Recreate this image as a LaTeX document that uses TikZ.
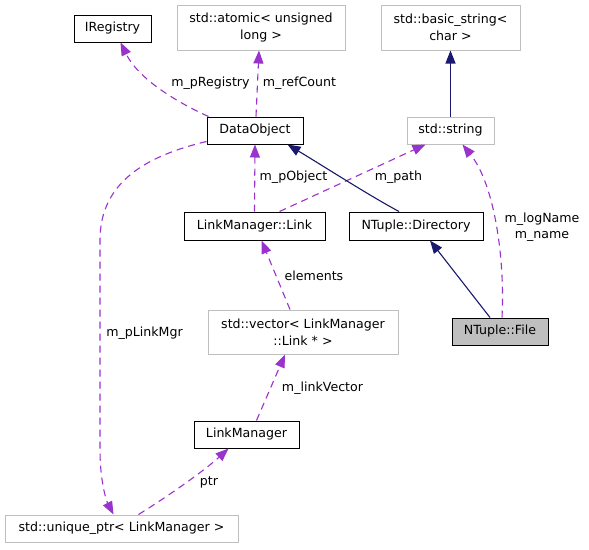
\documentclass[tikz,border=0pt]{standalone}
\usepackage{fontspec}
\setmainfont{DejaVu Sans}
\usetikzlibrary{arrows.meta,calc}
\definecolor{edgep}{HTML}{9A32CD}
\definecolor{edgen}{HTML}{191970}
\definecolor{boxg}{HTML}{BFBFBF}
\begin{document}
\begin{tikzpicture}[x=1pt,y=-1pt,
  font=\fontsize{12.6}{16.5}\selectfont,
  cls/.style={draw=black, line width=1pt, fill=white, inner sep=0pt, align=center},
  ext/.style={draw=boxg, line width=1pt, fill=white, inner sep=0pt, align=center},
  usage/.style={draw=edgep, dash pattern=on 7pt off 5pt, line width=1.1pt, -{Triangle[length=13pt,width=10pt]}},
  inherit/.style={draw=edgen, line width=1.1pt, -{Triangle[length=13pt,width=10pt]}},
  lbl/.style={inner sep=0pt, align=center}]
\fill[white] (0,0) rectangle (589,549);
\useasboundingbox (0,0) rectangle (589,549);

% nodes
\node[cls, minimum width=77pt, minimum height=27pt] (ireg) at (112.5,28.5) {IRegistry};
\node[ext, minimum width=168pt, minimum height=45pt] (atomic) at (261,27.5) {std::atomic< unsigned\\long >};
\node[ext, minimum width=139pt, minimum height=45pt] (bstr) at (450.5,27.5) {std::basic\_string<\\char >};
\node[cls, minimum width=96pt, minimum height=27pt] (dobj) at (255,130.5) {DataObject};
\node[ext, minimum width=87pt, minimum height=27pt] (str) at (450.5,130.5) {std::string};
\node[cls, minimum width=141pt, minimum height=28pt] (link) at (254.5,226) {LinkManager::Link};
\node[cls, minimum width=134pt, minimum height=28pt] (dir) at (416,226) {NTuple::Directory};
\node[cls, fill=boxg, minimum width=96pt, minimum height=27pt] (file) at (500,331.5) {NTuple::File};
\node[ext, minimum width=190pt, minimum height=44pt] (vec) at (303,332) {std::vector< LinkManager\\::Link * >};
\node[cls, minimum width=105pt, minimum height=27pt] (lmgr) at (246.5,434.5) {LinkManager};
\node[ext, minimum width=233pt, minimum height=27pt] (uptr) at (121.5,528.5) {std::unique\_ptr< LinkManager >};

% edges
\draw[usage] ($(dobj.north west)+(2,0)$) .. controls (185,106) and (140,82) .. ($(ireg.south)+(8,0)$);
\node[lbl] (lreg) at (210.5,83) {m\_pRegistry};

\draw[usage] ($(dobj.north)+(1,0)$) -- ($(atomic.south)+(-2,0)$);
\node[lbl] (lref) at (299.5,83) {m\_refCount};

\draw[usage] (link.north) -- (dobj.south);
\node[lbl] (lobj) at (293.5,177.5) {m\_pObject};

\draw[usage] ($(link.north)+(25,0)$) -- ($(str.south)+(-25,0)$);
\node[lbl] (lpath) at (398.5,177) {m\_path};

\draw[inherit] ($(dir.north)+(-17,0)$) .. controls (370,196) and (320,164) .. ($(dobj.south east)+(-16,0)$);

\draw[inherit] (str.north) -- (bstr.south);

\draw[inherit] ($(file.north)+(-10,0)$) -- ($(dir.south)+(14,0)$);

\draw[usage] ($(file.north)+(2,0)$) .. controls (505,260) and (495,185) .. ($(str.south)+(12,0)$);
\node[lbl] (lname) at (542,227) {m\_logName\\m\_name};

\draw[usage] ($(vec.north)+(-13,0)$) -- ($(link.south)+(7,0)$);
\node[lbl] (lel) at (314,276) {elements};

\draw[usage] ($(lmgr.north)+(10,0)$) -- ($(vec.south)+(-18,0)$);
\node[lbl] (lvec) at (322.5,388) {m\_linkVector};

\draw[usage] ($(dobj.south west)+(0,-3)$) .. controls (150,155) and (100,180) .. (100,240) -- (100,450) .. controls (100,480) and (106,500) .. ($(uptr.north)+(-8,0)$);
\node[lbl] (lmgrl) at (144.5,333) {m\_pLinkMgr};

\draw[usage] ($(uptr.north)+(17,0)$) .. controls (170,495) and (205,470) .. ($(lmgr.south)+(-18,0)$);
\node[lbl] (lptr) at (209,482) {ptr};
\end{tikzpicture}
\end{document}
